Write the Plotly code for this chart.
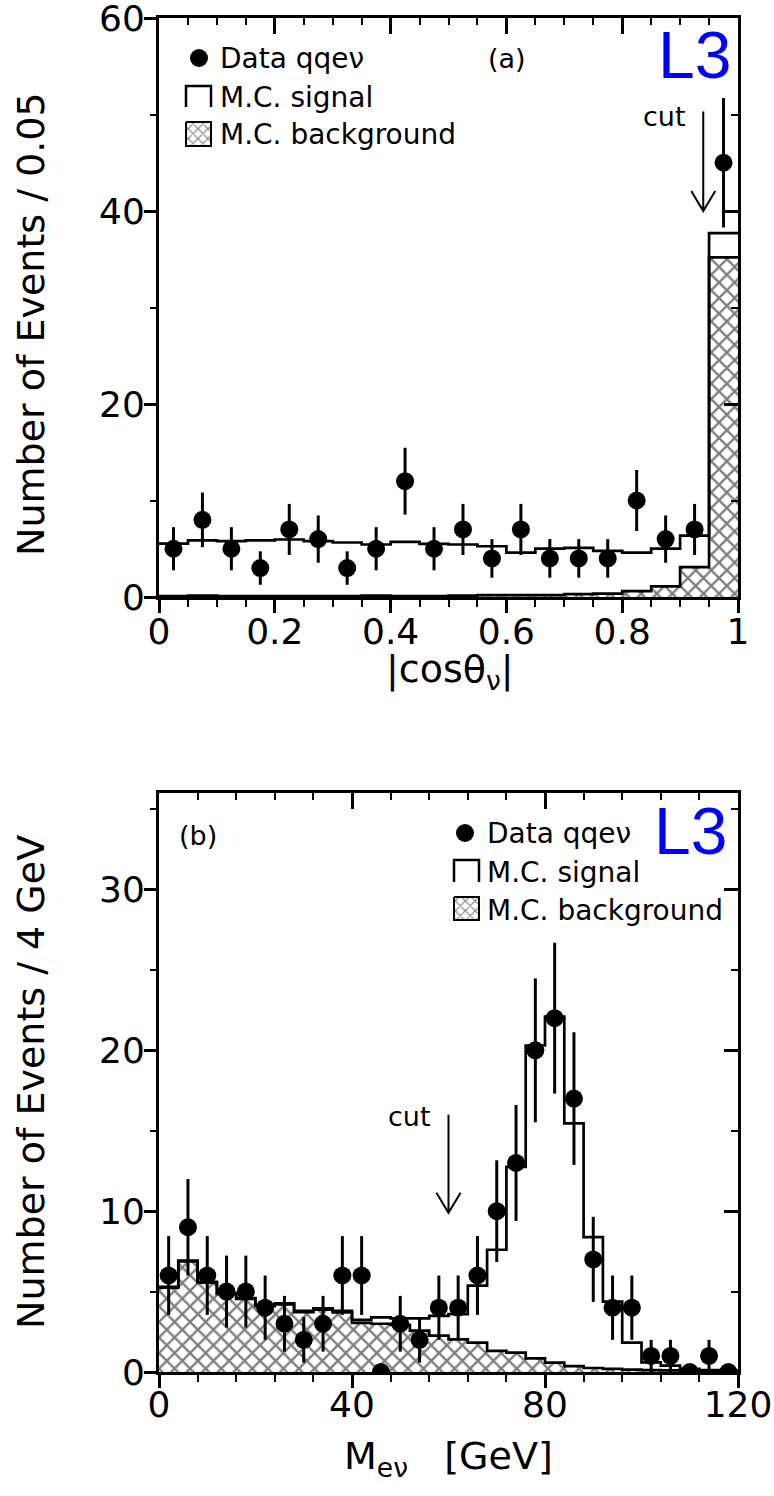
import numpy as np
import plotly.graph_objects as go

W, H = 774, 1496

# ---------------- Panel (a): |cos theta_nu|, bins of 0.05 ----------------
a_edges = np.round(np.arange(0.0, 1.0001, 0.05), 4)
a_data = [5, 8, 5, 3, 7, 6, 3, 5, 12, 5, 7, 4, 7, 4, 4, 4, 10, 6, 7, 45]
a_mc_total = [5.54, 5.86, 5.8, 5.86, 5.96, 5.8, 5.65, 5.44, 5.72, 5.51,
              5.44, 5.26, 4.6, 5.02, 5.09, 4.77, 4.6, 5.02, 6.35, 37.7]
a_mc_bkg = [0.1, 0.15, 0.1, 0.1, 0.1, 0.1, 0.1, 0.15, 0.1, 0.1,
            0.15, 0.2, 0.2, 0.2, 0.3, 0.35, 0.6, 1.1, 3.1, 35.2]
a_cut = 0.94

# ---------------- Panel (b): M_enu, bins of 4 GeV ----------------
b_edges = np.arange(0, 121, 4)
b_data = [6, 9, 6, 5, 5, 4, 3, 2, 3, 6, 6, 0, 3, 2, 4, 4, 6, 10, 13, 20,
          22, 17, 7, 4, 4, 1, 1, 0, 1, 0]
b_mc_total = [5.3, 6.93, 5.6, 4.9, 4.6, 4.17, 4.27, 3.8, 3.95, 3.8,
              3.24, 3.4, 3.34, 3.34, 3.49, 3.6, 5.37, 7.6, 12.76, 20.3,
              22.1, 15.46, 8.38, 4.38, 1.83, 0.6, 0.4, 0.2, 0.12, 0.08]
b_mc_bkg = [5.25, 6.88, 5.55, 4.85, 4.55, 4.1, 4.2, 3.72, 3.88, 3.7,
            3.05, 3.0, 2.93, 2.57, 2.26, 2.03, 1.83, 1.31, 1.2, 0.85,
            0.58, 0.37, 0.25, 0.19, 0.15, 0.12, 0.1, 0.08, 0.05, 0.03]
b_cut = 60

FONT = "DejaVu Sans"
LW = 2.7
HATCH = dict(shape="x", fgcolor="black", bgcolor="white", size=11, solidity=0.38)

fig = go.Figure()


def centers(edges):
    e = np.asarray(edges, dtype=float)
    return (e[:-1] + e[1:]) / 2


def step_y(vals):
    return list(vals) + [vals[-1]]


def add_panel(edges, data, total, bkg, xa, ya):
    fig.add_trace(go.Scatter(
        x=edges, y=step_y(bkg), mode="lines",
        line=dict(shape="hv", color="black", width=LW),
        fill="tozeroy", fillcolor="white", fillpattern=HATCH,
        xaxis=xa, yaxis=ya, showlegend=False, hoverinfo="skip"))
    fig.add_trace(go.Scatter(
        x=edges, y=step_y(total), mode="lines",
        line=dict(shape="hv", color="black", width=LW),
        xaxis=xa, yaxis=ya, showlegend=False, hoverinfo="skip"))
    d = np.asarray(data, dtype=float)
    fig.add_trace(go.Scatter(
        x=centers(edges), y=d, mode="markers",
        marker=dict(size=18, color="black"),
        error_y=dict(type="data", array=np.sqrt(d), width=0,
                     thickness=3, color="black"),
        xaxis=xa, yaxis=ya, showlegend=False))


add_panel(a_edges, a_data, a_mc_total, a_mc_bkg, "x", "y")
add_panel(b_edges, b_data, b_mc_total, b_mc_bkg, "x2", "y2")

# empty traces so that the mirrored (top / right) axes get drawn
for xa, ya in [("x3", "y"), ("x", "y3"), ("x4", "y2"), ("x2", "y4")]:
    fig.add_trace(go.Scatter(x=[None], y=[None], mode="markers",
                             xaxis=xa, yaxis=ya, showlegend=False,
                             hoverinfo="skip"))

# ---------- legend glyphs drawn on a hidden pixel-space axis ----------
for (cx, cy, bx0, bx1, sy0, sy1, hy0, hy1) in [
        (199, 58, 186, 211, 86, 107, 122, 146),
        (465, 833, 454, 479, 860, 882, 897, 920)]:
    fig.add_trace(go.Scatter(x=[cx], y=[cy], mode="markers",
                             marker=dict(size=18, color="black"),
                             xaxis="x5", yaxis="y5", showlegend=False,
                             hoverinfo="skip"))
    fig.add_trace(go.Scatter(x=[bx0, bx0, bx1, bx1], y=[sy1, sy0, sy0, sy1],
                             mode="lines", line=dict(color="black", width=2.5),
                             xaxis="x5", yaxis="y5", showlegend=False,
                             hoverinfo="skip"))
    fig.add_trace(go.Scatter(x=[bx0, bx1, bx1, bx0, bx0],
                             y=[hy0, hy0, hy1, hy1, hy0],
                             mode="lines", fill="toself", fillcolor="white",
                             fillpattern=dict(shape="x", fgcolor="black",
                                              bgcolor="white", size=7,
                                              solidity=0.3),
                             line=dict(color="black", width=2),
                             xaxis="x5", yaxis="y5", showlegend=False,
                             hoverinfo="skip"))

# ---------------- axes ----------------
XD = [159 / W, 738 / W]
YD_A = [1 - 597 / H, 1 - 18 / H]
YD_B = [1 - 1372 / H, 1 - 793 / H]

base = dict(showgrid=False, zeroline=False, showline=True, linecolor="black",
            linewidth=3, tickcolor="black", tickwidth=2.5, automargin=False,
            ticklabeloverflow="allow",
            tickfont=dict(family=FONT, size=36, color="black"))


def ax(domain, rng, dtick, mdtick, anchor, ticks, tlen, mlen, **kw):
    d = dict(base)
    d.update(domain=domain, range=rng, dtick=dtick, tick0=0, anchor=anchor,
             ticks=ticks, ticklen=tlen,
             minor=dict(dtick=mdtick, tick0=0, ticks=ticks, ticklen=mlen,
                        tickcolor="black", tickwidth=2))
    d.update(kw)
    return d


fig.update_layout(
    xaxis=ax(XD, [0, 1], 0.2, 0.05, "y", "outside", 13, 7,
             ticklabelstandoff=-12),
    yaxis=ax(YD_A, [0, 60], 20, 10, "x", "outside", 12, 6,
             ticklabelstandoff=-8),
    xaxis3=ax(XD, [0, 1], 0.2, 0.05, "y", "inside", 16, 7,
              overlaying="x", side="top", showticklabels=False),
    yaxis3=ax(YD_A, [0, 60], 20, 10, "x", "inside", 14, 7,
              overlaying="y", side="right", showticklabels=False),
    xaxis2=ax(XD, [0, 120], 40, 8, "y2", "outside", 13, 7,
              ticklabelstandoff=-14),
    yaxis2=ax(YD_B, [0, 36], 10, 5, "x2", "outside", 12, 6,
              ticklabelstandoff=-8),
    xaxis4=ax(XD, [0, 120], 40, 8, "y2", "inside", 16, 7,
              overlaying="x2", side="top", showticklabels=False),
    yaxis4=ax(YD_B, [0, 36], 10, 5, "x2", "inside", 14, 7,
              overlaying="y2", side="right", showticklabels=False),
    xaxis5=dict(domain=[0, 1], range=[0, W], visible=False, anchor="y5",
                fixedrange=True, automargin=False),
    yaxis5=dict(domain=[0, 1], range=[H, 0], visible=False, anchor="x5",
                fixedrange=True, automargin=False),
)

# ---------------- cut arrows ----------------
for (xr, yr, xc, ytop, ytip, dx, dy) in [
        ("x", "y", a_cut, 50.3, 40.0, 12 / 579, 20 / 9.65),
        ("x2", "y2", b_cut, 16.0, 9.9, 12 / 4.8, 20 / 16.06)]:
    path = (f"M {xc},{ytop} L {xc},{ytip} "
            f"M {xc - dx},{ytip + dy} L {xc},{ytip} L {xc + dx},{ytip + dy}")
    fig.add_shape(type="path", path=path, xref=xr, yref=yr,
                  line=dict(color="black", width=2))

# ---------------- texts (pixel space) ----------------
def txt(x, y, s, size=28, xanchor="left", color="black", family=FONT, angle=0):
    fig.add_annotation(x=x, y=y, xref="x5", yref="y5", text=s, showarrow=False,
                       xanchor=xanchor, yanchor="middle", textangle=angle,
                       font=dict(family=family, size=size, color=color))


for (x0, ys) in [(218, (58, 97, 134)), (485, (833, 872, 910))]:
    txt(x0, ys[0], "Data qqeν")
    txt(x0, ys[1], "M.C. signal")
    txt(x0, ys[2], "M.C. background")

txt(507, 58, "(a)", size=27, xanchor="center")
txt(198, 835, "(b)", size=27, xanchor="center")
L3F = "Liberation Sans Narrow, Liberation Sans, Arial"
txt(733, 55, "L3", size=66, xanchor="right", color="#0000ff", family=L3F)
txt(729, 831, "L3", size=66, xanchor="right", color="#0000ff", family=L3F)
txt(688, 116, "cut", size=27, xanchor="right")
txt(433, 1116, "cut", size=27, xanchor="right")

txt(31, 324, "Number of Events / 0.05", size=38, xanchor="center", angle=-90)
txt(31, 1082, "Number of Events / 4 GeV", size=38, xanchor="center", angle=-90)
txt(450, 671, "|cosθ<sub>ν</sub>|", size=38, xanchor="center")
txt(448, 1458, "M<sub>eν</sub>\u00a0\u00a0\u00a0[GeV]", size=38, xanchor="center")

fig.update_layout(width=W, height=H, margin=dict(l=0, r=0, t=0, b=0),
                  paper_bgcolor="white", plot_bgcolor="rgba(0,0,0,0)",
                  showlegend=False)

fig.write_html(
    "out.html",
    config={"displayModeBar": False},
    post_script="document.body.style.margin='0';"
                "document.body.style.overflow='hidden';")
